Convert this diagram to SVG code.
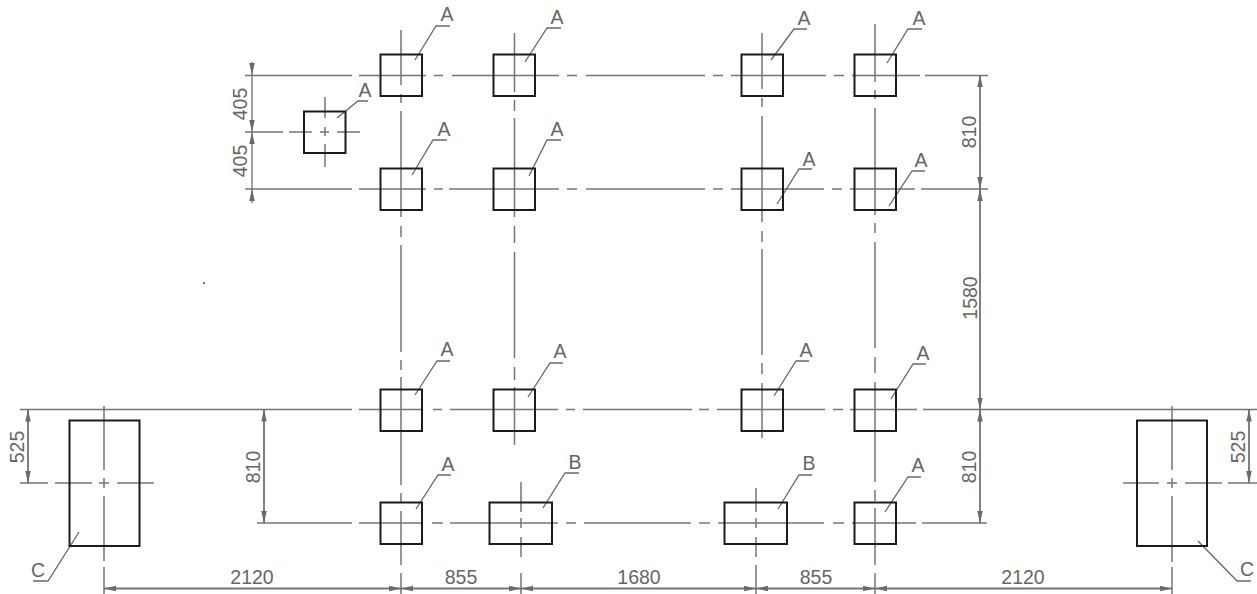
<svg xmlns="http://www.w3.org/2000/svg" width="1257" height="594" viewBox="0 0 1257 594">
<style>
.f{fill:none;stroke:#1c1c1c;stroke-width:2;stroke-linejoin:miter}
.c{fill:none;stroke:#757575;stroke-width:1.5}
.d{fill:none;stroke:#6e6e6e;stroke-width:1.3}
.l{fill:none;stroke:#686868;stroke-width:1.3}
text{font-family:"Liberation Sans",Arial,sans-serif;font-size:19.5px;fill:#666}
.m{text-anchor:middle}
</style>
<defs>
<marker id="ah" markerUnits="userSpaceOnUse" markerWidth="13" markerHeight="6" refX="12" refY="2.75" orient="auto"><path d="M0 0L12 2.75L0 5.5Z" fill="#6a6a6a"/></marker>
</defs>
<rect width="1257" height="594" fill="#fff"/>
<g id="connectors">
<g id="centerlines">
<path class="c" d="M245 75.500H352M359 75.500H426M434 75.500H443M452 75.500H559M567 75.500H577M586 75.500H705M713 75.500H723M731 75.500H826M834 75.500H844M852 75.500H920M925 75.500H988"/>
<path class="c" d="M245 189H352M359 189H426M434 189H443M449 189H559M567 189H577M586 189H705M713 189H723M731 189H824M832 189H842M850 189H915M921 189H988"/>
<path class="c" d="M20 409.500H352M359 409.500H423M433 409.500H442M450 409.500H558M566 409.500H575M583 409.500H692M699 409.500H709M717 409.500H825M833 409.500H843M850 409.500H917M923 409.500H1257"/>
<path class="c" d="M257 523H352M359 523H423M432 523H443M450 523H558M566 523H576M584 523H691M699 523H710M718 523H824M833 523H844M852 523H916M922 523H987"/>
<path class="c" d="M245 132H283M289 132H312M320 132H329M337 132H360M325 97V118M325 127V136M325 144V167"/>
<path class="c" d="M401 30V85M401 94V103M401 111V217M401 226V237M401 245V352M401 360V370M401 377V485M401 493V503M401 511V565M401 573V594"/>
<path class="c" d="M514.500 33V92M514.500 100V111M514.500 118V217M514.500 226V243M514.500 252V358M514.500 367V380M514.500 387V445"/>
<path class="c" d="M762 33V89M762 98V107M762 116V222M762 231V242M762 249V355M762 363V374M762 383V438"/>
<path class="c" d="M875 24V82M875 90V99M875 108V215M875 223V233M875 242V348M875 357V373M875 382V482M875 490V501M875 508V565M875 573V594"/>
<path class="c" d="M521 482V512M521 518V528M521 537V557M521 573V594"/>
<path class="c" d="M756 488V512M756 518V528M756 537V557M756 565V594"/>
<path class="c" d="M20 483H48M55 483H92M99 483H109M117 483H154M104 406V470M104 478V488M104 496V561M104 567V594"/>
<path class="c" d="M1123 483H1159M1167 483H1177M1185 483H1222M1228 483H1257M1172 406V470M1172 478V488M1172 496V562M1172 567V594"/>
</g>
<g id="dimensions">
<path class="d" marker-end="url(#ah)" d="M252 62V75"/>
<path class="d" marker-end="url(#ah)" d="M252 75V132"/>
<path class="d" marker-end="url(#ah)" d="M252 189V132"/>
<path class="d" marker-end="url(#ah)" d="M252 203V189"/>
<path class="d" marker-end="url(#ah)" d="M28 483V409.500"/>
<path class="d" marker-end="url(#ah)" d="M28 409.500V483"/>
<path class="d" marker-end="url(#ah)" d="M264 523V409.500"/>
<path class="d" marker-end="url(#ah)" d="M264 409.500V523"/>
<path class="d" marker-end="url(#ah)" d="M980 189V75"/>
<path class="d" marker-end="url(#ah)" d="M980 75V189"/>
<path class="d" marker-end="url(#ah)" d="M980 409.500V189"/>
<path class="d" marker-end="url(#ah)" d="M980 189V409.500"/>
<path class="d" marker-end="url(#ah)" d="M980 523V409.500"/>
<path class="d" marker-end="url(#ah)" d="M980 409.500V523"/>
<path class="d" marker-end="url(#ah)" d="M1249 483V409.500"/>
<path class="d" marker-end="url(#ah)" d="M1249 409.500V483"/>
<path class="d" marker-end="url(#ah)" d="M401 588.500H104"/>
<path class="d" marker-end="url(#ah)" d="M104 588.500H401"/>
<path class="d" marker-end="url(#ah)" d="M521 588.500H401"/>
<path class="d" marker-end="url(#ah)" d="M401 588.500H521"/>
<path class="d" marker-end="url(#ah)" d="M756 588.500H521"/>
<path class="d" marker-end="url(#ah)" d="M521 588.500H756"/>
<path class="d" marker-end="url(#ah)" d="M875 588.500H756"/>
<path class="d" marker-end="url(#ah)" d="M756 588.500H875"/>
<path class="d" marker-end="url(#ah)" d="M1172 588.500H875"/>
<path class="d" marker-end="url(#ah)" d="M875 588.500H1172"/>
</g>
<g id="leaders">
<path class="l" d="M415 60L436 26H450"/>
<path class="l" d="M525 62L547 28H561"/>
<path class="l" d="M337 118L358 101H368"/>
<path class="l" d="M412 175L433 140H447"/>
<path class="l" d="M529 176L547 140H561"/>
<path class="l" d="M771 60L794 29H807"/>
<path class="l" d="M887 63L908 29H922"/>
<path class="l" d="M777 204L799 169H812"/>
<path class="l" d="M889 206L912 171H925"/>
<path class="l" d="M415 395L437 361H450"/>
<path class="l" d="M528 397L550 363H563"/>
<path class="l" d="M774 396L796 361H809"/>
<path class="l" d="M891 399L913 364H926"/>
<path class="l" d="M416 509L438 475H451"/>
<path class="l" d="M543 508L565 473H579"/>
<path class="l" d="M778 509L799 475H812"/>
<path class="l" d="M885 512L908 477H921"/>
<path class="l" d="M79 532L48 581H33"/>
<path class="l" d="M1198 541L1237 581H1251"/>
</g>
</g>
<g id="n-r1c1"><rect class="f" x="380.500" y="54.500" width="41.500" height="41.500"/><text class="m" x="447" y="21">A</text></g>
<g id="n-r1c2"><rect class="f" x="493.500" y="54.500" width="41.500" height="41.500"/><text class="m" x="557" y="24">A</text></g>
<g id="n-r1c3"><rect class="f" x="741.500" y="54.500" width="41.500" height="41.500"/><text class="m" x="804" y="25">A</text></g>
<g id="n-r1c4"><rect class="f" x="854.500" y="54.500" width="41.500" height="41.500"/><text class="m" x="919" y="25">A</text></g>
<g id="n-offset"><rect class="f" x="304" y="111.500" width="41.500" height="41.500"/><text class="m" x="365" y="97">A</text></g>
<g id="n-r2c1"><rect class="f" x="380.500" y="168.500" width="41.500" height="41.500"/><text class="m" x="444" y="136">A</text></g>
<g id="n-r2c2"><rect class="f" x="493.500" y="168.500" width="41.500" height="41.500"/><text class="m" x="557" y="136">A</text></g>
<g id="n-r2c3"><rect class="f" x="741.500" y="168.500" width="41.500" height="41.500"/><text class="m" x="809" y="166">A</text></g>
<g id="n-r2c4"><rect class="f" x="854.500" y="168.500" width="41.500" height="41.500"/><text class="m" x="921" y="167">A</text></g>
<g id="n-r3c1"><rect class="f" x="380.500" y="389.500" width="41.500" height="41.500"/><text class="m" x="447" y="356">A</text></g>
<g id="n-r3c2"><rect class="f" x="493.500" y="389.500" width="41.500" height="41.500"/><text class="m" x="560" y="358">A</text></g>
<g id="n-r3c3"><rect class="f" x="741.500" y="389.500" width="41.500" height="41.500"/><text class="m" x="806" y="357">A</text></g>
<g id="n-r3c4"><rect class="f" x="854.500" y="389.500" width="41.500" height="41.500"/><text class="m" x="923" y="360">A</text></g>
<g id="n-r4c1"><rect class="f" x="380.500" y="502.500" width="41.500" height="41.500"/><text class="m" x="448" y="471">A</text></g>
<g id="n-r4b1"><rect class="f" x="489.500" y="502.500" width="62.500" height="41.500"/><text class="m" x="575" y="469">B</text></g>
<g id="n-r4b2"><rect class="f" x="724.500" y="502.500" width="62.500" height="41.500"/><text class="m" x="809" y="470">B</text></g>
<g id="n-r4c4"><rect class="f" x="854.500" y="502.500" width="41.500" height="41.500"/><text class="m" x="918" y="472">A</text></g>
<g id="n-cleft"><rect class="f" x="69.500" y="420.500" width="70" height="125.500"/><text class="m" x="38" y="577">C</text></g>
<g id="n-cright"><rect class="f" x="1137" y="420.500" width="70" height="125.500"/><text class="m" x="1247" y="576">C</text></g>
<g id="dim-labels">
<text class="m" transform="translate(247 104) rotate(-90)">405</text>
<text class="m" transform="translate(247 161) rotate(-90)">405</text>
<text class="m" transform="translate(24 447) rotate(-90)">525</text>
<text class="m" transform="translate(259.500 467) rotate(-90)">810</text>
<text class="m" transform="translate(976 132) rotate(-90)">810</text>
<text class="m" transform="translate(977 298) rotate(-90)">1580</text>
<text class="m" transform="translate(976 467) rotate(-90)">810</text>
<text class="m" transform="translate(1245 447) rotate(-90)">525</text>
<text class="m" x="252" y="584">2120</text>
<text class="m" x="461" y="584">855</text>
<text class="m" x="639" y="584">1680</text>
<text class="m" x="816" y="584">855</text>
<text class="m" x="1023" y="584">2120</text>
</g>
<circle cx="204" cy="283" r="0.900" fill="#333"/>
</svg>
